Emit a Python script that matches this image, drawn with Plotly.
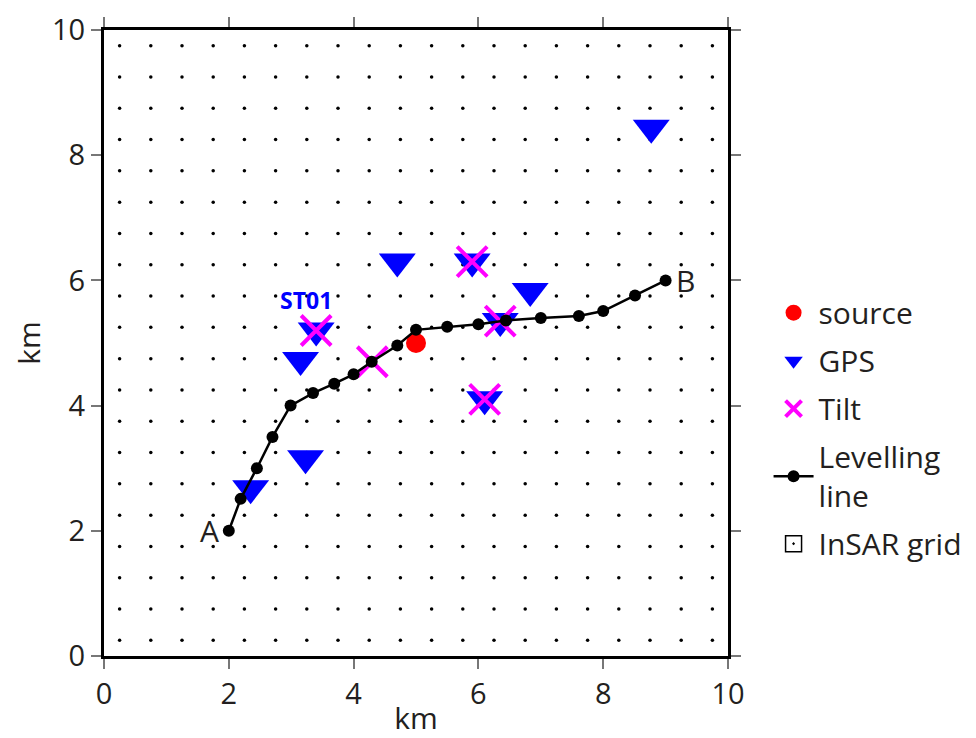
import plotly.graph_objects as go

# InSAR grid nodes (km)
grid_vals = [0.25, 0.75, 1.25, 1.75, 2.25, 2.75, 3.25, 3.75, 4.25, 4.75,
             5.25, 5.75, 6.25, 6.75, 7.25, 7.75, 8.25, 8.75, 9.25, 9.75]

# Levelling line benchmarks (A -> B)
lev_x = [2.0, 2.19, 2.45, 2.70, 2.99, 3.35, 3.69, 4.0, 4.29, 4.70,
         5.0, 5.5, 6.0, 6.44, 7.0, 7.61, 8.0, 8.51, 9.0]
lev_y = [2.0, 2.51, 3.0, 3.5, 4.0, 4.2, 4.35, 4.5, 4.70, 4.96,
         5.21, 5.26, 5.30, 5.36, 5.40, 5.43, 5.51, 5.76, 6.0]
lev_labels = ["A", "B"]

# Source
src_x = [5.0]
src_y = [5.0]

# GPS stations
gps_x = [3.4, 3.15, 3.23, 2.35, 4.7, 5.9, 6.83, 6.35, 6.1, 8.77]
gps_y = [5.2, 4.73, 3.16, 2.68, 6.3, 6.3, 5.83, 5.35, 4.1, 8.44]
gps_names = ["ST01"]

# Tilt stations
tilt_x = [3.4, 4.3, 5.9, 6.35, 6.1]
tilt_y = [5.2, 4.7, 6.3, 5.35, 4.1]

FONT = "Open Sans"
TXT = "#231f20"

gx = [x for y in grid_vals for x in grid_vals]
gy = [y for y in grid_vals for x in grid_vals]

fig = go.Figure()

fig.add_trace(go.Scatter(
    x=gx, y=gy, mode="markers", showlegend=False, hoverinfo="skip",
    marker=dict(size=3.5, color="black"), legendgroup="g"))

fig.add_trace(go.Scatter(
    x=src_x, y=src_y, mode="markers", name="source", legendgroup="s", legendrank=1,
    marker=dict(size=20, color="#ff0000", symbol="circle")))

fig.add_trace(go.Scatter(
    x=gps_x, y=gps_y, mode="markers", name="GPS", legendgroup="p", legendrank=2,
    marker=dict(size=32, color="#0000ff", symbol="triangle-down", line=dict(width=0))))

fig.add_trace(go.Scatter(
    x=tilt_x, y=tilt_y, mode="markers", name="Tilt", legendgroup="t", legendrank=3,
    marker=dict(size=30, color="#ff00ff", symbol="x-thin",
                line=dict(width=4, color="#ff00ff"))))

fig.add_trace(go.Scatter(
    x=lev_x, y=lev_y, mode="lines+markers", name="Levelling<br>line",
    legendgroup="l", legendrank=4,
    line=dict(color="black", width=2.5),
    marker=dict(size=12, color="black")))

fig.add_trace(go.Scatter(
    x=[None], y=[None], mode="markers", name="InSAR grid", legendgroup="g2",
    legendrank=5,
    marker=dict(size=16, color="black", symbol="square-open-dot",
                line=dict(width=1.5, color="black"))))

# labels
fig.add_annotation(x=lev_x[0], y=lev_y[0], text=lev_labels[0], showarrow=False,
                   xanchor="right", yanchor="middle", xshift=-8,
                   font=dict(family=FONT, size=30, color=TXT))
fig.add_annotation(x=lev_x[-1], y=lev_y[-1], text=lev_labels[1], showarrow=False,
                   xanchor="left", yanchor="middle", xshift=8,
                   font=dict(family=FONT, size=30, color=TXT))
fig.add_annotation(x=gps_x[0], y=gps_y[0], text="<b>" + gps_names[0] + "</b>",
                   showarrow=False, xanchor="center", yanchor="middle",
                   xshift=-10, yshift=30,
                   font=dict(family=FONT, size=23, color="#0000ff"))

axis_common = dict(
    range=[0, 10], tickvals=[0, 2, 4, 6, 8, 10], ticks="outside", ticklen=10,
    tickwidth=1.5, tickcolor="#777777", showline=True, linewidth=3,
    linecolor="black", mirror="allticks", showgrid=False, zeroline=False,
    automargin=False,
    tickfont=dict(family=FONT, size=29, color=TXT),
    title=dict(text="km", font=dict(family=FONT, size=30, color=TXT)),
)

fig.update_xaxes(**axis_common)
fig.update_yaxes(**axis_common)
fig.update_xaxes(title_standoff=0)
fig.update_yaxes(title_standoff=10)

# page body adds an 8px offset; size the figure to fit the window
fig.update_layout(
    width=968, height=730,
    margin=dict(l=96, r=248, t=22, b=82, autoexpand=False),
    plot_bgcolor="white", paper_bgcolor="white",
    font=dict(family=FONT, color=TXT),
    legend=dict(x=1.065, y=0.59, xanchor="left", yanchor="top",
                font=dict(family=FONT, size=30, color=TXT),
                tracegroupgap=6, itemwidth=40,
                bgcolor="rgba(0,0,0,0)"),
)

fig.write_html("out.html")
